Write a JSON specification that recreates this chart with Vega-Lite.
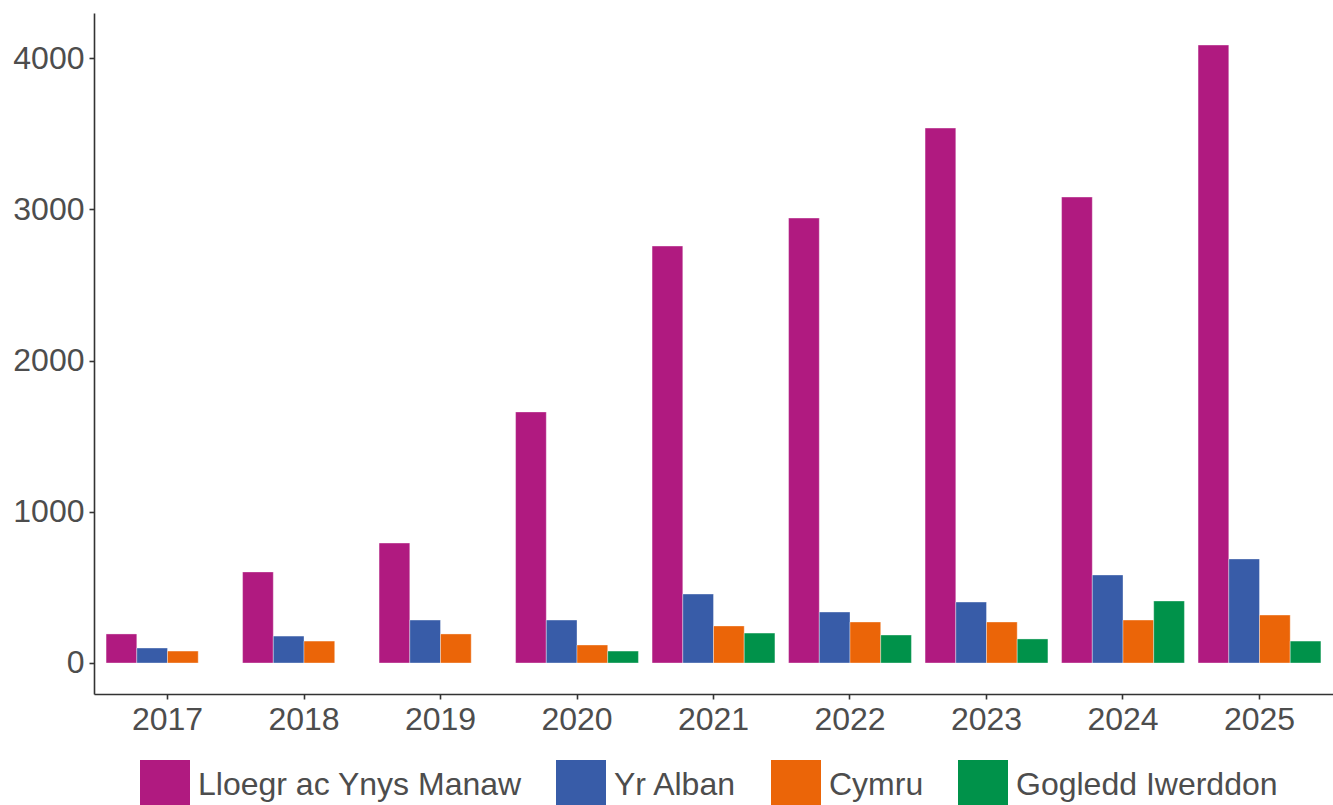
{
  "$schema": "https://vega.github.io/schema/vega-lite/v6.json",
  "autosize": {"type": "none"},
  "padding": {"left": 94, "top": 13, "right": 0, "bottom": 111},
  "width": 1239,
  "height": 681,
  "background": "white",
  "config": {
    "view": {"stroke": null},
    "font": "Liberation Sans",
    "axis": {"grid": false, "domainColor": "#333333", "domainWidth": 1.6, "tickColor": "#333333", "tickWidth": 1.6, "tickSize": 5, "labelFontSize": 32, "labelColor": "#4d4d4d", "labelFont": "Liberation Sans", "title": null}
  },
  "data": {
    "values": [
      {"year": "2017", "region": "Lloegr ac Ynys Manaw", "value": 192},
      {"year": "2017", "region": "Yr Alban", "value": 99},
      {"year": "2017", "region": "Cymru", "value": 79},
      {"year": "2018", "region": "Lloegr ac Ynys Manaw", "value": 602},
      {"year": "2018", "region": "Yr Alban", "value": 178},
      {"year": "2018", "region": "Cymru", "value": 145},
      {"year": "2019", "region": "Lloegr ac Ynys Manaw", "value": 793},
      {"year": "2019", "region": "Yr Alban", "value": 284},
      {"year": "2019", "region": "Cymru", "value": 192},
      {"year": "2020", "region": "Lloegr ac Ynys Manaw", "value": 1660},
      {"year": "2020", "region": "Yr Alban", "value": 284},
      {"year": "2020", "region": "Cymru", "value": 119},
      {"year": "2020", "region": "Gogledd Iwerddon", "value": 79},
      {"year": "2021", "region": "Lloegr ac Ynys Manaw", "value": 2757},
      {"year": "2021", "region": "Yr Alban", "value": 456},
      {"year": "2021", "region": "Cymru", "value": 245},
      {"year": "2021", "region": "Gogledd Iwerddon", "value": 198},
      {"year": "2022", "region": "Lloegr ac Ynys Manaw", "value": 2942},
      {"year": "2022", "region": "Yr Alban", "value": 337},
      {"year": "2022", "region": "Cymru", "value": 271},
      {"year": "2022", "region": "Gogledd Iwerddon", "value": 185},
      {"year": "2023", "region": "Lloegr ac Ynys Manaw", "value": 3537},
      {"year": "2023", "region": "Yr Alban", "value": 403},
      {"year": "2023", "region": "Cymru", "value": 271},
      {"year": "2023", "region": "Gogledd Iwerddon", "value": 159},
      {"year": "2024", "region": "Lloegr ac Ynys Manaw", "value": 3081},
      {"year": "2024", "region": "Yr Alban", "value": 582},
      {"year": "2024", "region": "Cymru", "value": 284},
      {"year": "2024", "region": "Gogledd Iwerddon", "value": 410},
      {"year": "2025", "region": "Lloegr ac Ynys Manaw", "value": 4086},
      {"year": "2025", "region": "Yr Alban", "value": 688},
      {"year": "2025", "region": "Cymru", "value": 317},
      {"year": "2025", "region": "Gogledd Iwerddon", "value": 145}
    ]
  },
  "mark": {"type": "bar", "stroke": "white", "strokeWidth": 0.6, "strokeOpacity": 0.6},
  "encoding": {
    "x": {
      "field": "year", "type": "nominal",
      "scale": {"paddingInner": 0.1, "paddingOuter": 0.0885},
      "axis": {"labelAngle": 0, "labelPadding": 5}
    },
    "xOffset": {
      "field": "region", "type": "nominal",
      "sort": ["Lloegr ac Ynys Manaw", "Yr Alban", "Cymru", "Gogledd Iwerddon"],
      "scale": {"domain": ["Lloegr ac Ynys Manaw", "Yr Alban", "Cymru", "Gogledd Iwerddon"], "paddingInner": 0, "paddingOuter": 0}
    },
    "y": {
      "field": "value", "type": "quantitative",
      "scale": {"domain": [-205, 4298], "nice": false, "zero": false},
      "axis": {"values": [0, 1000, 2000, 3000, 4000], "format": "d", "labelPadding": 5}
    },
    "color": {
      "field": "region", "type": "nominal",
      "sort": ["Lloegr ac Ynys Manaw", "Yr Alban", "Cymru", "Gogledd Iwerddon"],
      "scale": {"domain": ["Lloegr ac Ynys Manaw", "Yr Alban", "Cymru", "Gogledd Iwerddon"], "range": ["#B01A80", "#385CA8", "#EB6508", "#00924A"]},
      "legend": {
        "orient": "none", "legendX": 46, "legendY": 747, "padding": 0,
        "direction": "horizontal", "title": null,
        "symbolType": "square", "symbolSize": 2500, "symbolStrokeWidth": 0,
        "labelFontSize": 32, "labelColor": "#4d4d4d", "labelFont": "Liberation Sans",
        "labelLimit": 0, "columnPadding": 34, "labelOffset": 8
      }
    }
  }
}
